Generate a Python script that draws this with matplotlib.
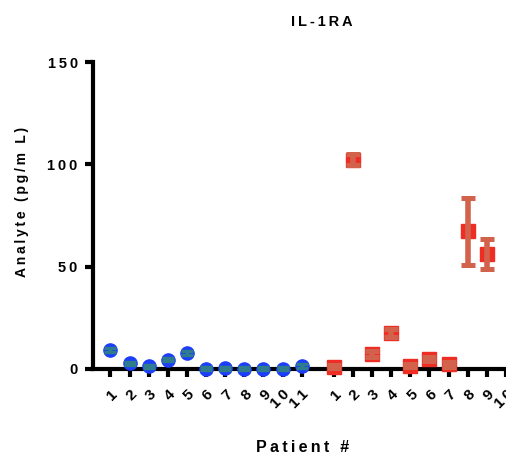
import matplotlib.pyplot as plt
import numpy as np

plt.rcParams['font.family'] = ['Liberation Sans', 'DejaVu Sans']

# group 1 (blue circles) and group 2 (red squares)
blue_labels = ["1", "2", "3", "4", "5", "6", "7", "8", "9", "10", "11"]
blue_mean = [9.3, 2.8, 1.3, 4.6, 7.9, 0.1, 0.4, 0.1, 0.1, 0.2, 1.5]
blue_sd = [1.0, 0.8, 0.7, 0.9, 1.0, 0.7, 0.7, 0.7, 0.7, 0.7, 0.8]

red_labels = ["1", "2", "3", "4", "5", "6", "7", "8", "9", "10"]
red_mean = [1.2, 102.2, 7.4, 17.7, 1.7, 5.0, 2.3, 67.2, 56.3]
red_sd = [0.7, 2.7, 1.5, 2.0, 0.8, 1.0, 1.2, 16.3, 7.3]

ylabels = ["0", "50", "100", "150"]

sp = "\u2009"
px = 1 / 100
fig = plt.figure(figsize=(506 * px, 462 * px), dpi=100)
ax = fig.add_axes([93 / 506, 93 / 462, 413 / 506, 307 / 462])

xb = np.arange(1, len(blue_mean) + 1)
red_start = 12.68
xr_all = red_start + np.arange(len(red_labels))
xr = xr_all[:len(red_mean)]

# markers first, error bars drawn over them
ax.plot(xb, blue_mean, "o", ms=9.5, color="#1c3ef8", mec="#1c3ef8", zorder=3, clip_on=False)
ax.errorbar(xb, blue_mean, yerr=blue_sd, fmt="none", ecolor="#2f7c8c",
            elinewidth=2.5, capsize=4.6, capthick=2.4, zorder=4, clip_on=False)

ax.plot(xr, red_mean, "s", ms=10, color="#ee2e24", zorder=3, clip_on=False)
ax.errorbar(xr, red_mean, yerr=red_sd, fmt="none", ecolor="#d2624c",
            elinewidth=4, capsize=5.0, capthick=3.6, zorder=4, clip_on=False)

ax.set_xlim(0.09, 21.05)
ax.set_ylim(0, 150)
ax.set_yticks([0, 50, 100, 150])
ax.set_yticklabels([sp.join(s) for s in ylabels], fontsize=10.5, fontweight="bold")
ax.set_xticks(np.concatenate([xb, xr_all]))
ax.set_xticklabels([sp.join(s) for s in blue_labels + red_labels], rotation=45, ha="right",
                   rotation_mode="anchor", fontsize=11, fontweight="bold")

for side in ["top", "right"]:
    ax.spines[side].set_visible(False)
for side in ["left", "bottom"]:
    ax.spines[side].set_linewidth(3)
ax.tick_params(axis="y", length=6, width=3, pad=5)
ax.tick_params(axis="x", length=6, width=3, pad=7)

fig.text(322 / 506, 1 - 22 / 462, sp.join("IL-1RA"), ha="center", va="center",
         fontsize=10.5, fontweight="bold")
fig.text(22 / 506, 1 - 202 / 462, sp.join("Analyte (pg/m L)"), ha="center", va="center",
         rotation=90, fontsize=10, fontweight="bold")
fig.text(303 / 506, 1 - 448 / 462, sp.join("Patient #"), ha="center", va="center",
         fontsize=11.5, fontweight="bold")

fig.savefig("out.png", dpi=100)
